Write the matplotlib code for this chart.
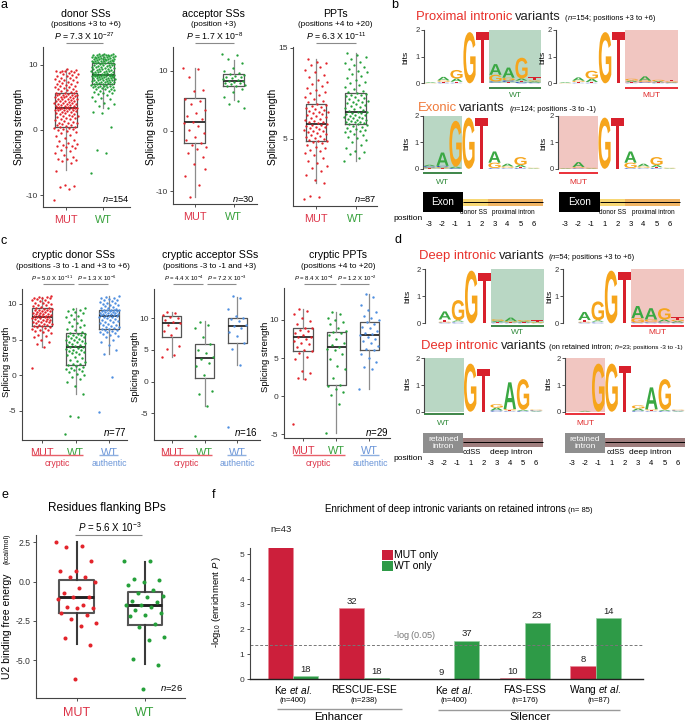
import numpy as np
import matplotlib
matplotlib.use('Agg')
import matplotlib.pyplot as plt
from matplotlib.textpath import TextPath
from matplotlib.patches import PathPatch, Rectangle
from matplotlib.font_manager import FontProperties
from matplotlib.transforms import Affine2D, blended_transform_factory

plt.rcParams['font.family'] = ['Liberation Sans', 'DejaVu Sans']
plt.rcParams['mathtext.fontset'] = 'custom'
plt.rcParams['mathtext.rm'] = 'Liberation Sans'
plt.rcParams['mathtext.it'] = 'Liberation Sans:italic'
plt.rcParams['mathtext.bf'] = 'Liberation Sans:bold'
plt.rcParams['axes.unicode_minus'] = False

# ======================= DATA =======================
# panel a: splicing strength (points) and box stats (whislo, q1, med, q3, whishi)
donor_mut = [-10.7,-9.0,-8.8,-8.6,-8.5,-6.3,-5.0,-4.8,-4.6,-4.5,-4.4,-4.2,-3.9,-3.6,-3.2,-3.0,-2.7,-2.6,-2.5,-2.4,-2.3,-2.2,-2.0,-1.7,-1.5,-1.2,-1.0,-0.7,-0.5,-0.3,-0.1,0.0,0.1,0.2,0.3,0.3,0.4,0.5,
             0.6,0.7,0.8,0.9,1.0,1.1,1.1,1.2,1.4,1.5,1.6,1.7,1.8,1.9,2.0,2.1,2.1,2.2,2.3,2.4,2.5,2.6,2.6,2.7,2.8,2.9,2.9,3.0,3.0,3.1,3.1,3.2,3.2,3.3,3.3,3.3,3.4,3.4,3.4,
             3.5,3.5,3.6,3.6,3.7,3.8,3.8,3.9,4.0,4.0,4.1,4.2,4.2,4.3,4.4,4.4,4.5,4.5,4.6,4.7,4.7,4.8,4.8,4.9,5.0,5.0,5.1,5.1,5.2,5.2,5.3,5.3,5.4,5.4,5.5,5.5,5.6,5.6,
             5.7,5.8,5.9,6.0,6.1,6.2,6.3,6.4,6.5,6.6,6.7,6.8,6.9,7.0,7.1,7.2,7.3,7.4,7.5,7.6,7.7,7.8,7.9,8.0,8.1,8.2,8.3,8.4,8.5,8.6,8.7,8.8,8.9,9.0,9.0,9.1,9.1,9.2,9.3]
donor_wt = [-6.6,-3.5,-3.0,0.5,2.6,2.8,
            3.3,3.6,3.9,4.2,4.5,4.7,4.9,5.1,5.3,5.5,5.6,5.7,5.8,5.9,6.0,6.1,6.2,6.3,6.3,6.4,6.5,6.5,6.6,6.6,6.7,6.7,6.8,6.8,6.9,6.9,7.0,7.0,
            7.1,7.1,7.2,7.2,7.3,7.3,7.3,7.4,7.4,7.5,7.5,7.6,7.6,7.6,7.7,7.7,7.8,7.8,7.8,7.9,7.9,8.0,8.0,8.0,8.1,8.1,8.1,8.2,8.2,8.2,8.3,8.3,8.3,8.3,8.4,8.4,8.4,8.4,8.4,
            8.5,8.5,8.6,8.6,8.7,8.7,8.8,8.8,8.9,8.9,9.0,9.0,9.1,9.1,9.2,9.2,9.3,9.3,9.4,9.4,9.5,9.5,9.6,9.6,9.7,9.7,9.8,9.8,9.9,9.9,10.0,10.0,10.1,10.1,10.2,10.2,10.3,10.3,
            10.4,10.4,10.4,10.5,10.5,10.5,10.6,10.6,10.6,10.7,10.7,10.7,10.8,10.8,10.8,10.9,10.9,10.9,11.0,11.0,11.0,11.1,11.1,11.1,11.2,11.2,11.2,11.3,11.3,11.3,11.4,11.4,11.4,11.5,11.5,11.5,11.6,11.6,11.7]
acc_mut = [10.5,10.3,8.9,6.8,6.6,5.3,5.0,4.4,3.5,3.0,2.4,1.9,1.5,1.3,0.8,0.2,-0.3,-1.0,-1.5,-2.0,-2.3,-2.6,-3.0,-3.6,-4.3,-5.5,-7.4,-9.0,-11.0,-6.3]
acc_wt = [12.8,12.5,11.9,11.2,10.5,10.0,9.6,9.4,9.3,9.1,9.0,8.9,8.7,8.6,8.4,8.3,8.2,8.1,8.0,7.9,7.8,7.6,7.5,7.4,7.0,6.5,5.6,5.0,4.5,3.8]
ppt_mut = [-1.6,-1.4,-1.3,0.1,0.5,1.0,1.4,1.8,2.0,2.3,2.6,2.9,3.2,3.4,3.6,3.8,4.0,4.1,4.3,4.5,4.6,4.7,
           4.8,4.9,5.0,5.1,5.2,5.3,5.4,5.5,5.6,5.7,5.8,5.9,6.0,6.1,6.2,6.3,6.3,6.4,6.5,6.5,6.6,
           6.7,6.8,6.9,7.0,7.1,7.2,7.3,7.4,7.5,7.6,7.7,7.8,7.9,8.0,8.1,8.2,8.3,8.4,8.5,8.6,8.7,8.8,
           9.0,9.2,9.4,9.6,9.8,10.0,10.2,10.4,10.6,10.8,11.0,11.2,11.5,11.8,12.0,12.3,12.6,12.9,13.1,13.3,13.5,13.8]
ppt_wt = [2.5,2.9,3.3,3.5,3.6,4.0,4.3,4.6,4.9,5.1,5.2,5.4,5.5,5.7,5.8,5.9,6.0,6.1,6.2,6.3,6.4,6.5,
          6.6,6.65,6.7,6.8,6.85,6.9,7.0,7.05,7.1,7.2,7.25,7.3,7.4,7.45,7.5,7.6,7.65,7.7,7.8,7.85,7.9,
          8.0,8.1,8.2,8.3,8.4,8.5,8.6,8.7,8.8,8.9,9.0,9.1,9.2,9.3,9.4,9.5,9.6,9.7,9.8,9.85,9.9,10.0,
          10.1,10.3,10.5,10.7,10.9,11.1,11.3,11.5,11.7,11.9,12.1,12.3,12.5,12.7,12.9,13.1,13.3,13.5,13.8,14.0,14.2,14.4]
donor_stats = [(-6.1, 0.5, 3.4, 5.6, 9.3), (3.3, 7.0, 8.4, 10.3, 11.7)]
acc_stats = [(-11.0, -2.0, 1.4, 5.4, 10.4), (5.1, 7.5, 8.3, 9.5, 11.7)]
ppt_stats = [(0.1, 4.8, 6.6, 8.85, 13.75), (2.5, 6.6, 7.9, 10.0, 14.4)]

# panel c: cryptic sites (MUT cryptic, WT cryptic, WT authentic)
cdon_mut = [1.0,3.9,4.4,4.7,5.0,5.3,5.5,5.7,5.9,6.0,6.2,6.3,6.4,6.5,6.6,6.7,6.8,6.85,6.9,
            7.0,7.1,7.15,7.2,7.3,7.4,7.45,7.5,7.6,7.65,7.7,7.8,7.85,7.9,8.0,8.05,8.1,8.15,8.2,
            8.25,8.3,8.35,8.4,8.5,8.55,8.6,8.65,8.7,8.8,8.85,8.9,9.0,9.05,9.1,9.15,9.2,9.3,9.35,9.4,
            9.5,9.6,9.7,9.8,9.9,10.0,10.1,10.2,10.3,10.4,10.5,10.6,10.7,10.8,10.85,10.9,10.95,11.0,11.1]
cdon_wt = [-8.2,-5.9,-5.7,-2.7,-1.5,-1.0,-0.5,-0.2,0.0,0.2,0.4,0.6,0.7,0.8,0.9,1.0,1.1,1.3,1.4,
           1.5,1.6,1.8,2.0,2.2,2.4,2.6,2.8,3.0,3.1,3.2,3.3,3.4,3.5,3.6,3.7,3.8,3.9,4.0,
           4.1,4.2,4.3,4.4,4.5,4.6,4.7,4.8,4.9,5.0,5.1,5.2,5.3,5.4,5.5,5.6,5.7,5.8,5.85,5.9,
           6.1,6.3,6.5,6.7,6.9,7.1,7.3,7.5,7.7,7.9,8.1,8.3,8.5,8.7,8.9,9.0,9.2,9.3,9.4]
cdon_auth = [-5.1,-0.2,3.0,3.6,4.2,4.6,5.0,5.3,5.5,5.7,5.8,5.9,6.0,6.1,6.2,6.3,6.4,6.45,6.5,
             6.6,6.7,6.8,6.9,7.0,7.1,7.2,7.3,7.4,7.5,7.6,7.7,7.8,7.9,8.0,8.1,8.15,8.2,8.3,
             8.35,8.4,8.45,8.5,8.55,8.6,8.65,8.7,8.75,8.8,8.85,8.9,8.95,9.0,9.05,9.1,9.12,9.15,9.18,9.2,
             9.3,9.4,9.5,9.6,9.7,9.8,9.9,10.0,10.1,10.2,10.3,10.4,10.5,10.6,10.7,10.8,10.9,11.0,11.1]
cacc_mut = [3.9,4.2,5.2,5.6,7.3,8.0,8.5,8.9,9.2,9.4,9.7,10.0,10.2,10.5,10.8,10.9]
cacc_wt = [-8.5,-3.9,-1.9,-1.5,1.0,2.4,3.0,3.6,3.9,4.5,5.0,6.0,7.0,8.5,9.0,9.4]
cacc_auth = [-7.2,2.6,5.2,6.1,7.2,7.8,8.4,8.7,9.0,9.5,9.8,10.0,10.3,11.5,13.2,13.5]
cppt_mut = [-3.6,2.2,2.4,3.0,3.3,4.9,5.2,5.6,5.9,6.0,6.4,6.8,7.0,7.2,7.5,7.7,7.8,8.0,8.3,8.5,8.7,8.9,9.0,9.5,9.9,10.2,10.8,11.2,11.5]
cppt_wt = [-4.8,-1.0,0.2,0.5,1.0,1.3,1.4,2.4,3.5,4.0,4.9,5.5,6.0,6.2,6.4,6.7,7.0,7.5,8.0,8.3,8.4,8.6,9.0,9.5,9.8,10.0,10.2,10.8,11.0]
cppt_auth = [0.9,3.6,3.8,4.5,5.0,5.5,6.0,6.2,6.6,7.0,7.2,7.5,7.8,8.0,8.1,8.3,8.6,8.9,9.1,9.5,9.8,10.0,10.2,10.5,11.0,11.3,12.0,13.0,13.4]
cdon_stats = [(3.9, 6.9, 8.2, 9.4, 11.0), (-2.7, 1.4, 4.0, 5.9, 9.4), (3.0, 6.5, 8.3, 9.2, 11.1)]
cacc_stats = [(3.9, 7.0, 9.2, 10.3, 10.9), (-3.8, 0.6, 3.8, 6.0, 9.5), (2.6, 6.1, 8.7, 10.0, 13.4)]
cppt_stats = [(2.2, 5.9, 7.7, 9.0, 11.5), (-4.8, 1.4, 6.4, 8.4, 11.0), (0.9, 6.0, 8.0, 9.8, 13.4)]

# panel e: U2 binding free energy
u2_mut = [2.5,2.3,2.2,1.3,0.7,0.7,0.3,0.3,0.0,-0.4,-0.7,-1.0,-1.0,-1.1,-1.5,-1.6,-1.7,-1.7,-2.0,-2.1,-2.4,-2.6,-2.8,-3.6,-4.0,-6.2]
u2_wt = [1.3,1.3,0.2,0.1,0.0,-0.2,-0.5,-0.7,-0.9,-1.0,-1.2,-1.3,-1.5,-1.5,-1.6,-1.8,-2.0,-2.1,-2.2,-2.7,-2.9,-3.5,-3.7,-4.9,-5.3,-6.8]
u2_stats = [(-3.97, -2.02, -0.98, 0.10, 2.5), (-5.25, -2.76, -1.49, -0.68, 1.27)]

# panel f: enrichment bars
f_names = ['Ke et al.', 'RESCUE-ESE', 'Ke et al.', 'FAS-ESS', 'Wang et al.']
f_sizes = ['(n=400)', '(n=238)', '(n=400)', '(n=176)', '(n=87)']
f_mut = [5.71, 2.85, 0.0, 0.05, 0.53]
f_wt = [0.13, 0.04, 1.54, 2.27, 2.44]
f_mut_n = ['n=43', '32', '9', '10', '8']
f_wt_n = ['18', '18', '37', '23', '14']
f_threshold = 1.36

# sequence logos (bits per letter, positions -3..-1, +1..+6)
logo_prox_wt = [{'A':0.03,'G':0.01},{'A':0.13,'G':0.05,'C':0.03,'T':0.03},{'G':0.32,'A':0.12,'C':0.02,'T':0.04},
                {'G':1.92},{'T':1.92},{'A':0.40,'G':0.25,'C':0.04,'T':0.03},{'A':0.38,'G':0.10,'C':0.06,'T':0.05},
                {'G':0.78,'A':0.08,'C':0.05,'T':0.05},{'T':0.12,'A':0.04,'G':0.04,'C':0.03}]
logo_prox_mut = [{'A':0.03,'G':0.01},{'A':0.12,'G':0.05,'C':0.02,'T':0.03},{'G':0.30,'A':0.12,'C':0.02,'T':0.03},
                 {'G':1.92},{'T':1.92},{'G':0.07,'A':0.05,'T':0.03,'C':0.02},{'A':0.16,'G':0.05,'C':0.03,'T':0.02},
                 {'G':0.05,'A':0.04,'C':0.02,'T':0.02},{'T':0.06,'G':0.03,'C':0.02,'A':0.02}]
logo_exon_wt = [{'C':0.05,'A':0.05,'G':0.03,'T':0.02},{'A':0.50,'C':0.05,'G':0.04,'T':0.02},{'G':1.72,'A':0.05,'C':0.03},
                {'G':1.92},{'T':1.92},{'A':0.42,'G':0.20,'C':0.03},{'A':0.10,'G':0.05,'C':0.02,'T':0.02},
                {'G':0.30,'A':0.08,'C':0.03,'T':0.03},{'A':0.02,'G':0.02}]
logo_exon_mut = [{'A':0.02,'G':0.01},{'A':0.18,'G':0.03,'C':0.02,'T':0.02},{'A':0.02,'G':0.02},
                 {'G':1.92},{'T':1.92},{'A':0.42,'G':0.20,'C':0.03},{'A':0.10,'G':0.05,'C':0.02,'T':0.02},
                 {'G':0.30,'A':0.08,'C':0.03,'T':0.03},{'A':0.02,'G':0.02}]
logo_deep_wt = [{},{'A':0.30,'T':0.08,'C':0.03,'G':0.03},{'G':0.75,'A':0.05,'C':0.03,'T':0.03},
                {'G':1.95},{'T':1.88},{'G':0.06,'A':0.04,'T':0.03,'C':0.02},{'A':0.13,'G':0.04,'C':0.02,'T':0.02},
                {'G':0.05,'A':0.03,'C':0.02,'T':0.02},{'T':0.06,'G':0.03,'A':0.02}]
logo_deep_mut = [{},{'A':0.30,'T':0.06,'C':0.03,'G':0.03},{'G':0.70,'A':0.05,'C':0.03,'T':0.03},
                 {'G':1.95},{'T':1.90},{'A':0.45,'G':0.16,'C':0.03},{'A':0.42,'G':0.08,'C':0.03,'T':0.03},
                 {'G':0.42,'A':0.08,'C':0.03,'T':0.03},{'T':0.10,'A':0.05,'G':0.05,'C':0.03}]
logo_ret_wt = [{},{},{},{'G':1.80},{'T':1.60},{'G':0.13,'A':0.10,'C':0.05},{'A':1.00,'G':0.05,'C':0.02,'T':0.03},
               {'G':1.15,'A':0.04,'C':0.03},{'C':0.03,'G':0.03,'A':0.02}]
logo_ret_mut = [{},{'A':0.03},{'G':1.80},{'G':1.80},{'T':1.72},{'G':0.12,'A':0.08,'C':0.04},
                {'A':0.82,'G':0.04,'T':0.03,'C':0.02},{'G':1.15,'A':0.04,'C':0.03},{'C':0.03,'G':0.03,'A':0.02}]
pos_labels = ['-3', '-2', '-1', '1', '2', '3', '4', '5', '6']

# ======================= STYLE =======================
RED = '#e3242b'; GREEN = '#25a03a'; BLUE = '#4f8fe0'
RED_T = '#dc3246'; GREEN_T = '#35a03a'; BLUE_T = '#6a95d8'
LCOL = {'A': '#3aa843', 'C': '#2a4fbf', 'G': '#f6a51c', 'T': '#d8202c'}

W, H = 685, 723
fig = plt.figure(figsize=(W / 100, H / 100), dpi=100)

def add_ax(x0, y0, x1, y1):
    return fig.add_axes([x0 / W, 1 - y1 / H, (x1 - x0) / W, (y1 - y0) / H])

ov = fig.add_axes([0, 0, 1, 1], zorder=10)
ov.set_xlim(0, W); ov.set_ylim(H, 0); ov.axis('off')
renderer = fig.canvas.get_renderer()

def T(x, y, s, **kw):
    kw.setdefault('ha', 'center'); kw.setdefault('va', 'center')
    return ov.text(x, y, s, **kw)

def LN(xs, ys, **kw):
    ov.plot(xs, ys, solid_capstyle='butt', **kw)

def seq(x, y, parts):
    for s, kw, gap in parts:
        t = ov.text(x, y, s, ha='left', va='baseline', **kw)
        x += t.get_window_extent(renderer=renderer).width + gap
    return x

def style(ax, lab=6):
    for s in ['top', 'right']:
        ax.spines[s].set_visible(False)
    for s in ['left', 'bottom']:
        ax.spines[s].set_color('#444'); ax.spines[s].set_linewidth(0.8)
    ax.tick_params(length=2.5, width=0.6, labelsize=lab, pad=1.5, colors='#333')

def box_panel(box, xlim, ylim, yticks, groups, stats, labels, colors, tcolors, bw, jw, s,
              lw_box=0.9, wcol='#8c8c8c', lw_wh=0.9, xlab=7.8, ylab=6, xpad=3):
    ax = add_ax(*box)
    pos = np.arange(1, len(groups) + 1)
    bst = [dict(whislo=a, q1=b, med=c, q3=d, whishi=e, fliers=[]) for a, b, c, d, e in stats]
    ax.bxp(bst, positions=pos, widths=bw, showfliers=False, showcaps=False,
           boxprops=dict(color='#555555', lw=lw_box),
           medianprops=dict(color='#222222', lw=lw_box * 1.4),
           whiskerprops=dict(color=wcol, lw=lw_wh))
    for p, vals, c in zip(pos, groups, colors):
        v = np.asarray(vals, float)
        j = ((np.arange(len(v)) * 0.6180339887) % 1.0 - 0.5) * 2 * jw
        ax.scatter(p + j, v, s=s, color=c, lw=0, zorder=3)
    ax.set_xlim(*xlim); ax.set_ylim(*ylim); ax.set_yticks(yticks)
    style(ax, ylab)
    ax.set_xticks(pos); ax.set_xticklabels(labels, fontsize=xlab)
    ax.tick_params(axis='x', pad=xpad)
    for t, c in zip(ax.get_xticklabels(), tcolors):
        t.set_color(c)
    return ax

FP = FontProperties(family='Liberation Sans', weight='bold')

def letter(ax, ch, x, y, w, h):
    if h <= 0:
        return
    p = TextPath((0, 0), ch, size=1, prop=FP)
    e = p.get_extents()
    tr = Affine2D().translate(-e.x0, -e.y0).scale(w / e.width, h / e.height).translate(x, y)
    ax.add_patch(PathPatch(tr.transform_path(p), fc=LCOL[ch], ec='none', lw=0, zorder=3, clip_on=False))

def draw_logo(ax, cols):
    for i, col in enumerate(cols):
        y = 0.0
        for ch, h in sorted(col.items(), key=lambda kv: kv[1]):
            letter(ax, ch, i + 1 - 0.47, y, 0.94, h)
            y += h

def logo_panel(spine, col1, w, y2, y0, cols, shade, shade_color, ucol, utext, tcol, uoff, toff, bits_xy):
    ax = add_ax(spine, y2, col1 + 9 * w, y0)
    ax.set_xlim(0.5 - (col1 - spine) / w, 9.5); ax.set_ylim(0, 2)
    for s in ['top', 'right', 'bottom']:
        ax.spines[s].set_visible(False)
    ax.spines['left'].set_color('#444'); ax.spines['left'].set_linewidth(0.8)
    ax.set_xticks([]); ax.set_yticks([0, 1, 2])
    ax.tick_params(axis='y', length=2, width=0.6, labelsize=5.5, pad=0.8, colors='#333')
    ax.patch.set_alpha(0)
    a, b = shade
    ax.add_patch(Rectangle((a - 0.5, 0), b - a + 1, 2, fc=shade_color, ec='none', zorder=0))
    draw_logo(ax, cols)
    ppb = (y0 - y2) / 2.0
    ax.plot([a - 0.5, b + 0.5], [-uoff / ppb] * 2, color=ucol, lw=1.3, clip_on=False, solid_capstyle='butt')
    ax.text((a + b) / 2, -toff / ppb, utext, color=tcol, fontsize=6, ha='center', va='center', clip_on=False)
    T(bits_xy[0], bits_xy[1], 'bits', rotation=90, fontsize=6)
    return ax

SH_G = '#b9d7c4'; SH_R = '#f1c6c1'; UG = '#2f7d3a'; UR = '#e8202a'; TG = '#2f8a3a'; TR = '#e02a2a'

# ======================= PANEL a =======================
T(4, 5, 'a', fontsize=9)
a1 = box_panel((43, 47, 130, 207), (0.38, 2.73), (-11.8, 12.7), [-10, 0, 10], [donor_mut, donor_wt],
               donor_stats, ['MUT', 'WT'], [RED, GREEN], [RED_T, GREEN_T], 0.57, 0.32, 2.8)
a2 = box_panel((173, 47, 257, 204), (0.44, 2.59), (-12.1, 13.9), [-10, 0, 10], [acc_mut, acc_wt],
               acc_stats, ['MUT', 'WT'], [RED, GREEN], [RED_T, GREEN_T], 0.54, 0.3, 2.8)
a3 = box_panel((293, 47, 377, 206), (0.425, 2.53), (-2.4, 15.1), [5, 15], [ppt_mut, ppt_wt],
               ppt_stats, ['MUT', 'WT'], [RED, GREEN], [RED_T, GREEN_T], 0.52, 0.3, 2.8)
for (cx, t1, t2, ptxt, x1, x2, nx, ntxt) in [
        (85.7, 'donor SSs', '(positions +3 to +6)', r'$P$ = 7.3 X 10$^{-27}$', 66, 103, 130, r'$n$=154'),
        (213.3, 'acceptor SSs', '(position +3)', r'$P$ = 1.7 X 10$^{-8}$', 195, 234, 255, r'$n$=30'),
        (335, 'PPTs', '(positions +4 to +20)', r'$P$ = 6.3 X 10$^{-11}$', 316, 356, 376, r'$n$=87')]:
    T(cx, 14, t1, fontsize=7.6)
    T(cx, 24.5, t2, fontsize=5.9)
    LN([x1, x2], [42.7, 42.7], color='#8a8a8a', lw=0.8)
    T((x1 + x2) / 2, 36.5, ptxt, fontsize=6.3)
    T(nx, 199, ntxt, fontsize=6.7, ha='right')
for x in [19, 151, 273.5]:
    T(x, 127, 'Splicing strength', rotation=90, fontsize=7.4)

# ======================= PANEL c =======================
T(4, 241, 'c', fontsize=9)
clabels = ['MUT', 'WT', 'WT']
ccols = [RED, GREEN, BLUE]
ctcols = [RED_T, GREEN_T, BLUE_T]
c1 = box_panel((22, 289, 127, 440), (0.41, 3.53), (-9.1, 12.1), [-5, 0, 5, 10], [cdon_mut, cdon_wt, cdon_auth],
               cdon_stats, clabels, ccols, ctcols, 0.58, 0.3, 3.0)
c2 = box_panel((154, 289, 260, 440), (0.46, 3.69), (-9.2, 14.6), [-5, 0, 5, 10], [cacc_mut, cacc_wt, cacc_auth],
               cacc_stats, clabels, ccols, ctcols, 0.58, 0.3, 3.0)
c3 = box_panel((284, 288, 390, 438), (0.43, 3.62), (-5.5, 14.2), [-5, 0, 5, 10], [cppt_mut, cppt_wt, cppt_auth],
               cppt_stats, clabels, ccols, ctcols, 0.58, 0.3, 3.0)
for (cx, t1, t2, p1, p2, pc, xs, ntxt, nx, ylx, yly) in [
        (73, 'cryptic donor SSs', '(positions -3 to -1 and +3 to +6)', r'$P$ = 5.0 X 10$^{-11}$', r'$P$ = 1.3 X 10$^{-6}$',
         (52, 96.5), (42, 76, 109), r'$n$=77', 126, 6.7, 362),
        (210, 'cryptic acceptor SSs', '(positions -3 to -1 and +3)', r'$P$ = 4.4 X 10$^{-4}$', r'$P$ = 7.2 X 10$^{-3}$',
         (183.5, 226.5), (171.7, 205, 237.3), r'$n$=16', 258, 136, 367),
        (338, 'cryptic PPTs', '(positions +4 to +20)', r'$P$ = 8.4 X 10$^{-4}$', r'$P$ = 1.2 X 10$^{-2}$',
         (313.5, 356.5), (303.3, 338.3, 370), r'$n$=29', 389, 265.8, 357)]:
    T(cx, 255, t1, fontsize=7.6)
    T(cx, 266.7, t2, fontsize=5.9)
    LN([xs[0] + 1, xs[1] - 2], [283.8, 283.8], color='#8a8a8a', lw=0.8)
    LN([xs[1] + 2, xs[2] - 1], [283.8, 283.8], color='#8a8a8a', lw=0.8)
    T(pc[0], 278.8, p1, fontsize=4.3)
    T(pc[1], 278.8, p2, fontsize=4.3)
    T(nx, 432.5, ntxt, fontsize=7, ha='right')
    T(ylx, yly, 'Splicing strength', rotation=90, fontsize=6.8)
    LN([xs[0] - 10, xs[1] + 7], [455, 455], color='#e8606a', lw=1)
    LN([xs[2] - 10, xs[2] + 9], [455, 455], color='#8fb0e0', lw=1)
    T((xs[0] + xs[1]) / 2 - 2, 463.3, 'cryptic', fontsize=6.3, color=RED_T)
    T(xs[2], 463.3, 'authentic', fontsize=6.3, color=BLUE_T)

# ======================= PANEL b (logos) =======================
T(395, 5, 'b', fontsize=9)
seq(416, 20, [('Proximal intronic', dict(fontsize=9.4, color='#e8302a'), 2.5),
              ('variants', dict(fontsize=9.4, color='#222'), 4),
              ('(', dict(fontsize=5.4), 0.3), ('n', dict(fontsize=5.4, style='italic'), 0.3),
              ('=154; positions +3 to +6)', dict(fontsize=5.4), 0)])
seq(417.7, 111, [('Exonic', dict(fontsize=9.4, color='#f07a3a'), 2.5),
                 ('variants', dict(fontsize=9.4, color='#222'), 4),
                 ('(', dict(fontsize=5.4), 0.3), ('n', dict(fontsize=5.4, style='italic'), 0.3),
                 ('=124; positions -3 to -1)', dict(fontsize=5.4), 0)])
logo_panel(424, 424, 13.0, 30, 83.3, logo_prox_wt, (6, 9), SH_G, UG, 'WT', TG, 4.4, 12, (405.7, 57))
logo_panel(556, 558.5, 13.3, 30, 83.3, logo_prox_mut, (6, 9), SH_R, UR, 'MUT', TR, 4.4, 12, (543, 57))
logo_panel(423, 423, 13.0, 115.5, 168.8, logo_exon_wt, (1, 3), SH_G, UG, 'WT', TG, 4.5, 14, (406.7, 143))
logo_panel(558, 559, 13.0, 115.5, 168.8, logo_exon_mut, (1, 3), SH_R, UR, 'MUT', TR, 4.5, 14, (544, 143))

def exon_diagram(x0, x1, xe, xmid, lab1x, lab2x):
    ov.add_patch(Rectangle((x0, 192.3), x1 - x0, 20, fc='black', ec='none'))
    T((x0 + x1) / 2, 202.3, 'Exon', fontsize=7.2, color='white')
    ov.add_patch(Rectangle((x1, 199), xmid - x1, 6.7, fc='#f7d774', ec='none'))
    ov.add_patch(Rectangle((xmid, 199), xe - xmid, 6.7, fc='#f0b464', ec='none'))
    LN([x1, xe], [202.3, 202.3], color='black', lw=0.7)
    T(lab1x, 212.8, 'donor SS', fontsize=4.7)
    T(lab2x, 212.8, 'proximal intron', fontsize=4.7)

exon_diagram(422.7, 463.3, 543, 488, 474, 513)
exon_diagram(559, 600, 680, 625, 613, 653)
T(407.7, 218.3, 'position', fontsize=6)
for i, s in enumerate(pos_labels):
    T(423 + 6.5 + 13 * i, 224.5, s, fontsize=5.5)
    T(559 + 6.5 + 13 * i, 224.5, s, fontsize=5.5)

# ======================= PANEL d (logos) =======================
T(398, 240, 'd', fontsize=9)
seq(419, 259, [('Deep intronic', dict(fontsize=9.4, color='#e8302a'), 2.5),
               ('variants', dict(fontsize=9.4, color='#222'), 4),
               ('(', dict(fontsize=5.4), 0.3), ('n', dict(fontsize=5.4, style='italic'), 0.3),
               ('=54; positions +3 to +6)', dict(fontsize=5.4), 0)])
seq(421, 349.3, [('Deep intronic', dict(fontsize=9.4, color='#e8302a'), 2.5),
                 ('variants', dict(fontsize=9.4, color='#222'), 2.5),
                 ('(on retained intron; ', dict(fontsize=5.4), 0.3), ('n', dict(fontsize=5.0, style='italic'), 0.3),
                 ('=23; positions -3 to -1)', dict(fontsize=4.6), 0)])
logo_panel(425, 425, 13.2, 269.3, 323.3, logo_deep_wt, (6, 9), SH_G, UG, 'WT', TG, 2.7, 9.5, (408.3, 296.7))
logo_panel(563, 564.5, 13.3, 269.3, 323.3, logo_deep_mut, (6, 9), SH_R, UR, 'MUT', TR, 2.7, 9.5, (549.5, 296.7))
logo_panel(424, 424, 13.2, 358.3, 411.7, logo_ret_wt, (1, 3), SH_G, UG, 'WT', TG, 1.8, 11.6, (408.3, 383.3))
logo_panel(565, 565, 13.3, 358.3, 411.7, logo_ret_mut, (1, 3), SH_R, UR, 'MUT', TR, 1.8, 11.6, (549.3, 383.3))

def intron_diagram(x0, x1, xe, lab1x, lab2x):
    ov.add_patch(Rectangle((x0, 432.7), x1 - x0, 20.6, fc='#8e8e8e', ec='none'))
    T((x0 + x1) / 2, 443, 'retained\nintron', fontsize=6, color='white', linespacing=0.95)
    ov.add_patch(Rectangle((x1, 438), xe - x1, 8.7, fc='#9e7d7d', ec='none'))
    LN([x1, xe], [442.3, 442.3], color='black', lw=0.7)
    T(lab1x, 452.3, 'cdSS', fontsize=5.5)
    T(lab2x, 452.3, 'deep intron', fontsize=6)

intron_diagram(423.3, 463.3, 543, 472, 511)
intron_diagram(565, 605, 685, 615.5, 650)
T(408, 458, 'position', fontsize=6)
for i, s in enumerate(pos_labels):
    T(424 + 6.6 + 13.2 * i, 463.5, s, fontsize=5.5)
    T(565 + 6.65 + 13.3 * i, 463.5, s, fontsize=5.5)

# ======================= PANEL e =======================
T(5, 495, 'e', fontsize=9)
ae = box_panel((36, 535, 185, 698), (0.4, 2.59), (-7.4, 2.97), [-5, -2.5, 0, 2.5], [u2_mut, u2_wt],
               u2_stats, ['MUT', 'WT'], [RED, GREEN], [RED_T, GREEN_T], 0.51, 0.3, 8.5,
               lw_box=1.5, wcol='#3a3a3a', lw_wh=1.5, xlab=9, ylab=6.2, xpad=4)
ae.set_yticklabels(['-5.0', '-2.5', '0.0', '2.5'])
T(106.7, 507.7, 'Residues flanking BPs', fontsize=8.5)
LN([75, 141.7], [535, 535], color='#8a8a8a', lw=0.8)
T(110, 527.3, r'$P$ = 5.6 X 10$^{-3}$', fontsize=7)
T(183, 688.3, r'$n$=26', fontsize=6.8, ha='right')
T(6.7, 626.7, 'U2 binding free energy', rotation=90, fontsize=7.5)
T(6.7, 548.3, '(kcal/mol)', rotation=90, fontsize=5)

# ======================= PANEL f =======================
T(213.3, 495, 'f', fontsize=9)
af = add_ax(250, 548, 643, 679.3)
f_group_pos = np.array([0.0, 1.0, 2.27, 3.27, 4.27])
bwf = 0.354
af.bar(f_group_pos - bwf / 2, f_mut, bwf, color='#cc1f3b', ec='#e88a98', lw=0.5)
af.bar(f_group_pos + bwf / 2, f_wt, bwf, color='#2e9a47', ec='#95d0a2', lw=0.5)
for x, v, s in zip(f_group_pos - bwf / 2, f_mut, f_mut_n):
    af.text(x, v + 0.1, s, ha='center', va='bottom', fontsize=6.8, color='#222')
for x, v, s in zip(f_group_pos + bwf / 2, f_wt, f_wt_n):
    af.text(x, v + 0.1, s, ha='center', va='bottom', fontsize=6.8, color='#222')
af.axhline(f_threshold, color='#777777', ls=(0, (3, 2)), lw=0.7)
af.set_xlim(-0.61, 4.94); af.set_ylim(0, 5.25)
af.set_yticks([0, 1, 2, 3, 4, 5])
style(af, 6)
af.spines['bottom'].set_color('#222'); af.spines['bottom'].set_linewidth(1)
af.set_xticks([])
trf = blended_transform_factory(af.transData, af.transAxes)
for x, nm, sz in zip(f_group_pos, f_names, f_sizes):
    if nm.endswith('et al.'):
        lab = nm.replace(' et al.', '') + r' $\mathit{et\ al.}$'
    else:
        lab = nm
    af.text(x, (679.3 - 690) / 131.3, lab, transform=trf, ha='center', va='center', fontsize=7.3)
    af.text(x + (0.04 if nm.startswith('Wang') else 0), (679.3 - 700.5) / 131.3, sz, transform=trf,
            ha='center', va='center', fontsize=5.6)
T(415, 635.7, r'-log ($\mathit{0.05}$)', fontsize=6.6, color='#777777')
ov.add_patch(Rectangle((382.3, 550), 10.4, 10, fc='#cc1f3b', ec='none'))
ov.add_patch(Rectangle((382.3, 560.7), 10.4, 10, fc='#2e9a47', ec='none'))
T(394.5, 555, 'MUT only', fontsize=7.5, ha='left')
T(394.5, 565.7, 'WT only', fontsize=7.5, ha='left')
LN([276.7, 401.7], [709.3, 709.3], color='#9a9a9a', lw=1)
LN([437.7, 620], [710, 710], color='#9a9a9a', lw=1)
T(338.3, 717.3, 'Enhancer', fontsize=8.2)
T(530, 717.3, 'Silencer', fontsize=8.2)
T(216.7, 601.7, r'-log$_{10}$ (enrichment $P$ )', rotation=90, fontsize=6.8)
seq(325, 511.7, [('Enrichment of deep intronic variants on retained introns', dict(fontsize=7.1), 2),
                 ('(n= 85)', dict(fontsize=5.5), 0)])

fig.savefig('out.png', dpi=100)
